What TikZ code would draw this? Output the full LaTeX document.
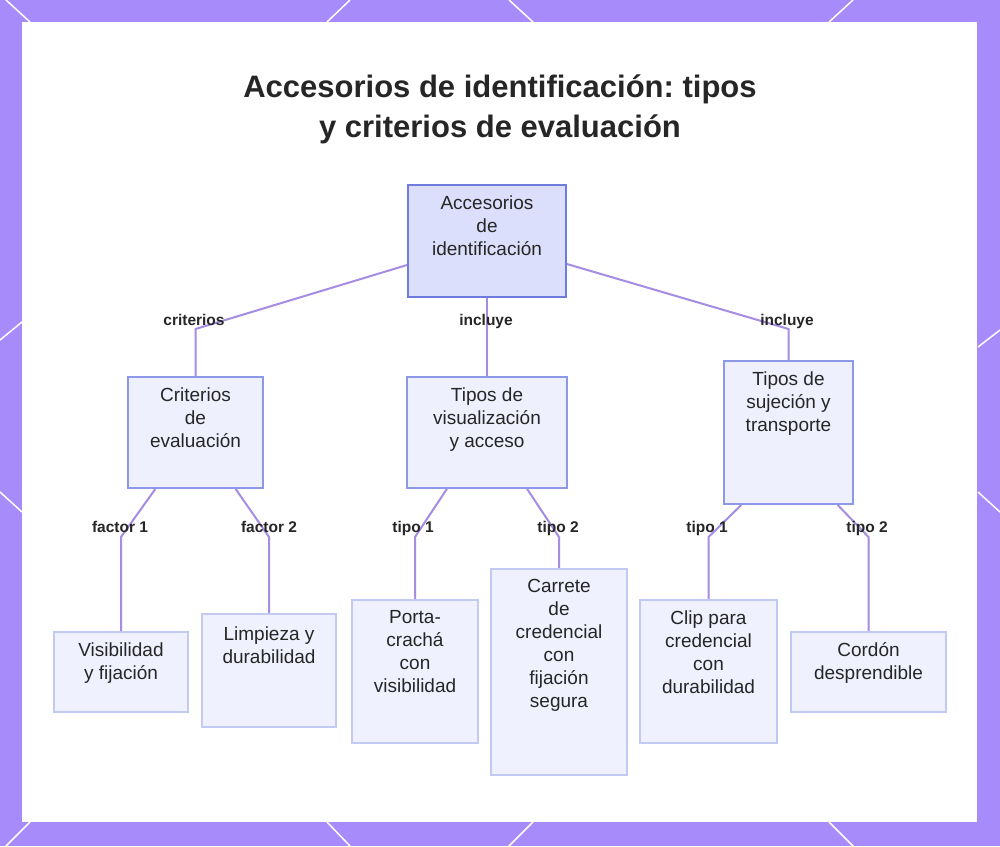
\documentclass[tikz,border=0pt]{standalone}
\usepackage{fontspec}
\setmainfont{Liberation Sans}
\frenchspacing
\definecolor{bgpurple}{HTML}{A78BFA}
\definecolor{linec}{HTML}{A48DE3}
\definecolor{rootfill}{HTML}{DCDFFB}
\definecolor{rootdraw}{HTML}{6F7CDD}
\definecolor{midfill}{HTML}{EEF0FE}
\definecolor{middraw}{HTML}{8E98E8}
\definecolor{leaffill}{HTML}{EFF1FE}
\definecolor{leafdraw}{HTML}{C3CAF2}
\definecolor{txtc}{HTML}{262626}
\pgfdeclarelayer{bg}
\pgfdeclarelayer{edges}
\pgfsetlayers{bg,edges,main}
\begin{document}
\begin{tikzpicture}[x=1pt,y=-1pt,
 rootbox/.style={draw=rootdraw, fill=rootfill, line width=1.8pt, inner sep=0},
 midbox/.style={draw=middraw, fill=midfill, line width=1.5pt, inner sep=0},
 leafbox/.style={draw=leafdraw, fill=leaffill, line width=1.5pt, inner sep=0},
 boxtext/.style={anchor=north, align=center, inner sep=0, text=txtc, font=\fontsize{19}{23}\selectfont},
 conn/.style={draw=linec, line width=2pt},
 elabel/.style={font=\bfseries\fontsize{15.5}{18}\selectfont, text=txtc, inner sep=0, text height=11pt, text depth=3pt},
 deco/.style={draw=white, line width=1.5pt}
]
\useasboundingbox (0,0) rectangle (1000,846);
\begin{pgfonlayer}{bg}
\fill[bgpurple] (0,0) rectangle (1000,846);
\draw[deco] (6,0) -- (30,22);
\draw[deco] (350,0) -- (327,22);
\draw[deco] (509,0) -- (533,22);
\draw[deco] (853,0) -- (829,22);
\draw[deco] (30,822) -- (6,846);
\draw[deco] (327,822) -- (350,846);
\draw[deco] (533,822) -- (509,846);
\draw[deco] (829,822) -- (853,846);
\draw[deco] (22,322) -- (0,340);
\draw[deco] (0,492) -- (22,512);
\draw[deco] (978,347) -- (1000,330);
\draw[deco] (978,492) -- (1000,512);
\fill[white] (22,22) rectangle (977,822);
\end{pgfonlayer}

\node[font=\bfseries\fontsize{31}{40}\selectfont, align=center, text=txtc, inner sep=0, anchor=north] (title) at (500,75) {Accesorios de identificación: tipos\\y criterios de evaluación};

\node[rootbox, minimum width=158pt, minimum height=112pt] (root) at (487,241) {};
\node[midbox, minimum width=135pt, minimum height=111pt] (crit) at (195.5,432.5) {};
\node[midbox, minimum width=160pt, minimum height=111pt] (tvis) at (487,432.5) {};
\node[midbox, minimum width=129pt, minimum height=143pt] (tsuj) at (788.5,432.5) {};
\node[leafbox, minimum width=134pt, minimum height=80pt] (vis) at (121,672) {};
\node[leafbox, minimum width=134pt, minimum height=113pt] (lim) at (269,670.5) {};
\node[leafbox, minimum width=126pt, minimum height=143pt] (porta) at (415,671.5) {};
\node[leafbox, minimum width=136pt, minimum height=206pt] (carr) at (559,672) {};
\node[leafbox, minimum width=137pt, minimum height=143pt] (clip) at (708.5,671.5) {};
\node[leafbox, minimum width=155pt, minimum height=80pt] (cord) at (868.5,672) {};

\node[boxtext] (troot) at ([yshift=-11pt]root.north) {Accesorios\\de\\identificación};
\node[boxtext] (tcrit) at ([yshift=-11pt]crit.north) {Criterios\\de\\evaluación};
\node[boxtext] (ttvis) at ([yshift=-11pt]tvis.north) {Tipos de\\visualización\\y acceso};
\node[boxtext] (ttsuj) at ([yshift=-11pt]tsuj.north) {Tipos de\\sujeción y\\transporte};
\node[boxtext] (tvis2) at ([yshift=-11pt]vis.north) {Visibilidad\\y fijación};
\node[boxtext] (tlim) at ([yshift=-13pt]lim.north) {Limpieza y\\durabilidad};
\node[boxtext] (tporta) at ([yshift=-11pt]porta.north) {Porta-\\crachá\\con\\visibilidad};
\node[boxtext] (tcarr) at ([yshift=-11pt]carr.north) {Carrete\\de\\credencial\\con\\fijación\\segura};
\node[boxtext] (tclip) at ([yshift=-11pt]clip.north) {Clip para\\credencial\\con\\durabilidad};
\node[boxtext] (tcord) at ([yshift=-11pt]cord.north) {Cordón\\desprendible};

\coordinate (b1) at (195.5,329);
\coordinate (b2) at (788.5,329);
\coordinate (b3) at (121,537);
\coordinate (b4) at (269,537);
\coordinate (b5) at (415,537);
\coordinate (b6) at (559,537);
\coordinate (b7) at (708.5,537);
\coordinate (b8) at (868.5,537);

\begin{pgfonlayer}{edges}
\draw[conn] ([yshift=-24pt]root.west) -- (b1) -- (crit.north);
\draw[conn] (root.south) -- (tvis.north);
\draw[conn] ([yshift=-23pt]root.east) -- (b2) -- (tsuj.north);
\draw[conn] ([xshift=-40pt]crit.south) -- (b3) -- (vis.north);
\draw[conn] ([xshift=40pt]crit.south) -- (b4) -- (lim.north);
\draw[conn] ([xshift=-40pt]tvis.south) -- (b5) -- (porta.north);
\draw[conn] ([xshift=40pt]tvis.south) -- (b6) -- (carr.north);
\draw[conn] ([xshift=-47pt]tsuj.south) -- (b7) -- (clip.north);
\draw[conn] ([xshift=49pt]tsuj.south) -- (b8) -- (cord.north);
\end{pgfonlayer}

\node[elabel] (l1) at (194,321.5) {criterios};
\node[elabel] (l2) at (486,321.5) {incluye};
\node[elabel] (l3) at (787,321.5) {incluye};
\node[elabel] (l4) at (120,528.5) {factor 1};
\node[elabel] (l5) at (269,528.5) {factor 2};
\node[elabel] (l6) at (413,528.5) {tipo 1};
\node[elabel] (l7) at (558,528.5) {tipo 2};
\node[elabel] (l8) at (707,528.5) {tipo 1};
\node[elabel] (l9) at (867,528.5) {tipo 2};
\end{tikzpicture}
\end{document}
